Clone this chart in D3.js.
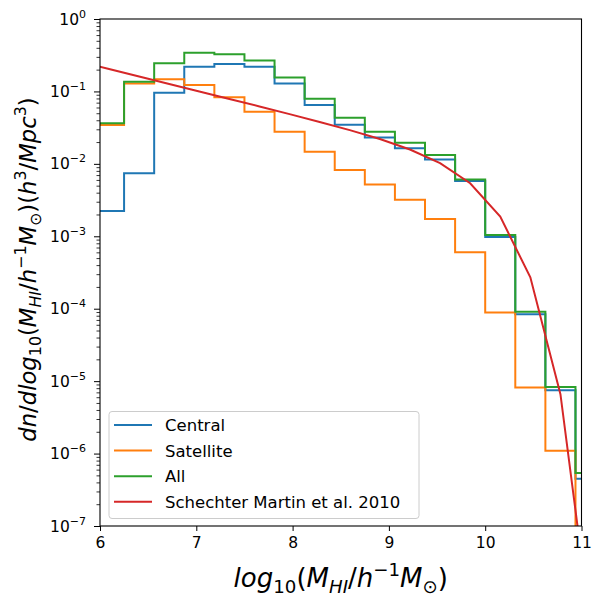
<!DOCTYPE html>
<html><head><meta charset="utf-8">
<script src="https://cdn.jsdelivr.net/npm/d3@7"></script>
<style>body{margin:0;background:#fff}svg{display:block}text{font-family:"DejaVu Sans",sans-serif}</style>
</head><body>
<script>
// ---- data ----
const binEdges = [5.9375, 6.25, 6.5625, 6.875, 7.1875, 7.5, 7.8125, 8.125, 8.4375, 8.75, 9.0625, 9.375, 9.6875, 10.0, 10.3125, 10.625, 10.9375, 11.25];
const central = [0.00223, 0.0074, 0.096, 0.219, 0.239, 0.219, 0.129, 0.065, 0.0347, 0.0232, 0.0164, 0.0115, 0.00578, 0.00098, 8.4e-5, 7.5e-6, 4.5e-7];
const satellite = [0.0343, 0.129, 0.147, 0.1226, 0.083, 0.0525, 0.0278, 0.0147, 0.0082, 0.0052, 0.0032, 0.00173, 0.0006, 8.9e-5, 8.2e-6, 1.09e-6, 1e-10];
const allGal = [0.0365, 0.136, 0.244, 0.343, 0.325, 0.268, 0.156, 0.079, 0.0434, 0.0278, 0.0196, 0.0133, 0.0061, 0.00104, 9.06e-5, 8.3e-6, 5.4e-7];
const schechterX = [5.78125, 6.09375, 6.40625, 6.71875, 7.03125, 7.34375, 7.65625, 7.96875, 8.28125, 8.59375, 8.90625, 9.21875, 9.53125, 9.84375, 10.15625, 10.46875, 10.78125, 11.09375];
const schechterY = [0.259, 0.204, 0.161, 0.1269, 0.1, 0.0788, 0.062, 0.0486, 0.0379, 0.0292, 0.022, 0.0158, 0.01023, 0.0054, 0.00187, 0.000271, 6.6e-6, 4.1e-9];
const xTicks = [6, 7, 8, 9, 10, 11];
const yTickExp = [0, -1, -2, -3, -4, -5, -6, -7];
const seriesNames = ["Central", "Satellite", "All", "Schechter Martin et al. 2010"];
const colors = ["#1f77b4", "#ff7f0e", "#2ca02c", "#d62728"];

// ---- layout ----
const W = 593, H = 597;
const L = 100, R = 581.5, T = 19, B = 526;
const svg = d3.select("body").append("svg").attr("width", W).attr("height", H);
const x = d3.scaleLinear().domain([6, 11]).range([L, R]);
const y = d3.scaleLog().domain([1e-7, 1]).range([B, T]);

svg.append("defs").append("clipPath").attr("id", "clip")
  .append("rect").attr("x", L).attr("y", T).attr("width", R - L).attr("height", B - T);

const g = svg.append("g").attr("clip-path", "url(#clip)");
const stepLine = d3.line().x(d => x(d[0])).y(d => y(d[1])).curve(d3.curveStepAfter);
function stepPts(vals) {
  const p = vals.map((v, i) => [binEdges[i], v]);
  p.push([binEdges[vals.length], vals[vals.length - 1]]);
  return p;
}
[central, satellite, allGal].forEach((s, i) => {
  g.append("path").attr("d", stepLine(stepPts(s))).attr("fill", "none")
    .attr("stroke", colors[i]).attr("stroke-width", 2);
});
const line = d3.line().x(d => x(d[0])).y(d => y(d[1]));
g.append("path").attr("d", line(schechterX.map((v, i) => [v, schechterY[i]])))
  .attr("fill", "none").attr("stroke", colors[3]).attr("stroke-width", 2);

// ---- axes ----
const xa = svg.append("g").attr("transform", `translate(0,${B})`)
  .call(d3.axisBottom(x).tickValues(xTicks).tickSize(5).tickSizeOuter(0).tickFormat(d3.format("d")));
xa.select(".domain").remove();
xa.selectAll("text").attr("font-size", 15.5).attr("fill", "#000").attr("dy", "0.95em").attr("y", 7);
xa.selectAll("line").attr("stroke", "#000").attr("stroke-width", 1);

const majors = yTickExp.map(e => Math.pow(10, e));
const minors = [];
for (let e = -7; e < 0; e++) for (let m = 2; m <= 9; m++) minors.push(m * Math.pow(10, e));
const ya = svg.append("g").attr("transform", `translate(${L},0)`)
  .call(d3.axisLeft(y).tickValues(majors).tickSize(6).tickSizeOuter(0).tickFormat(() => ""));
ya.select(".domain").remove();
ya.selectAll("line").attr("stroke", "#000").attr("stroke-width", 1);
const ym = svg.append("g").attr("transform", `translate(${L},0)`)
  .call(d3.axisLeft(y).tickValues(minors).tickSize(3.5).tickSizeOuter(0).tickFormat(() => ""));
ym.select(".domain").remove();
ym.selectAll("line").attr("stroke", "#000").attr("stroke-width", 0.8);

yTickExp.forEach(e => {
  const t = svg.append("text").attr("x", L - 14).attr("y", y(Math.pow(10, e)) + 5.5)
    .attr("text-anchor", "end").attr("font-size", 15.5).attr("fill", "#000");
  t.append("tspan").text("10");
  t.append("tspan").attr("font-size", 11).attr("dy", -7).text(e === 0 ? "0" : "\u2212" + (-e));
});

// frame
svg.append("rect").attr("x", L).attr("y", T).attr("width", R - L).attr("height", B - T)
  .attr("fill", "none").attr("stroke", "#000").attr("stroke-width", 1.1);

// ---- math labels ----
function mathText(sel, parts, size) {
  let cur = 0;
  parts.forEach(p => {
    const [txt, it, lvl] = p;
    let target = lvl === "sub" ? 0.22 * size : lvl === "sup" ? -0.42 * size : 0;
    sel.append("tspan").text(txt)
      .attr("font-style", it ? "italic" : "normal")
      .attr("font-size", lvl ? size * 0.7 : size)
      .attr("dy", target - cur);
    cur = target;
  });
}
const xl = svg.append("text").attr("x", (L + R) / 2 + 0).attr("y", 587).attr("text-anchor", "middle").attr("fill", "#000");
mathText(xl, [["log", 1], ["10", 0, "sub"], ["(", 0], ["M", 1], ["HI", 1, "sub"], ["/", 0], ["h", 1], ["\u22121", 0, "sup"], ["M", 1], ["\u2299", 0, "sub"], [")", 0]], 26);

const yl = svg.append("text").attr("transform", `translate(36,${(T + B) / 2 - 3}) rotate(-90)`)
  .attr("text-anchor", "middle").attr("fill", "#000");
mathText(yl, [["dn", 1], ["/", 0], ["dlog", 1], ["10", 0, "sub"], ["(", 0], ["M", 1], ["HI", 1, "sub"], ["/", 0], ["h", 1], ["\u22121", 0, "sup"], ["M", 1], ["\u2299", 0, "sub"], [")(", 0], ["h", 1], ["3", 0, "sup"], ["/", 0], ["Mpc", 1], ["3", 0, "sup"], [")", 0]], 22.7);

// ---- legend ----
const lg = svg.append("g");
lg.append("rect").attr("x", 109).attr("y", 411.5).attr("width", 310).attr("height", 107).attr("rx", 3)
  .attr("fill", "#fff").attr("fill-opacity", 0.8).attr("stroke", "#cccccc").attr("stroke-width", 1);
seriesNames.forEach((n, i) => {
  const yy = 425 + i * 25.6;
  lg.append("line").attr("x1", 114).attr("x2", 152).attr("y1", yy).attr("y2", yy)
    .attr("stroke", colors[i]).attr("stroke-width", 2);
  lg.append("text").attr("x", 165).attr("y", yy + 6).attr("font-size", 16.5).attr("fill", "#000").text(n);
});
</script>
</body></html>
